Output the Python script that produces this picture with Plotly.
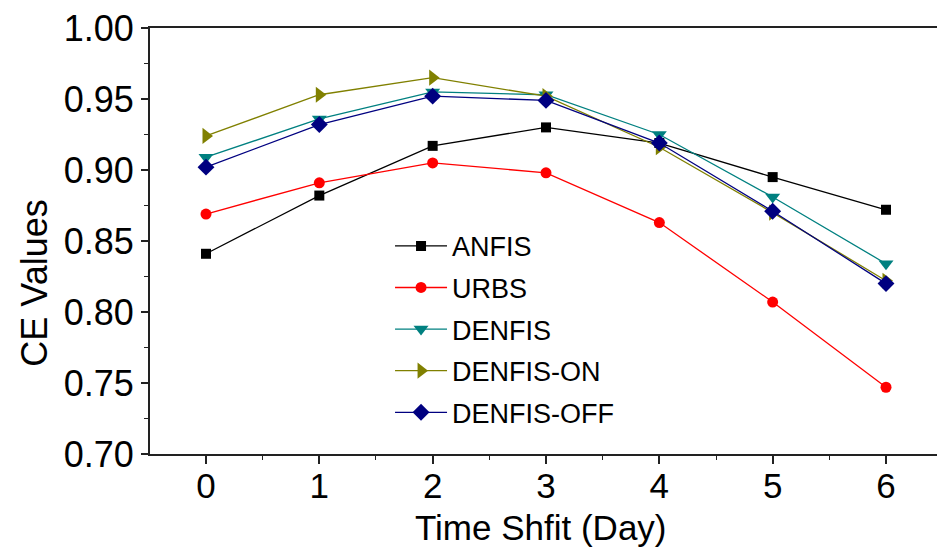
import plotly.graph_objects as go

days = [0, 1, 2, 3, 4, 5, 6]
anfis = [0.841, 0.882, 0.917, 0.930, 0.919, 0.895, 0.872]
urbs = [0.869, 0.891, 0.905, 0.898, 0.863, 0.807, 0.747]
denfis = [0.909, 0.936, 0.955, 0.953, 0.925, 0.881, 0.834]
denfis_on = [0.924, 0.953, 0.965, 0.952, 0.916, 0.870, 0.822]
denfis_off = [0.902, 0.932, 0.952, 0.949, 0.919, 0.871, 0.820]

x_title = "Time Shfit (Day)"
y_title = "CE Values"

series = [
    ("ANFIS", anfis, "#000000", "square", 10),
    ("URBS", urbs, "#FF0000", "circle", 11),
    ("DENFIS", denfis, "#008080", "triangle-down", 13),
    ("DENFIS-ON", denfis_on, "#808000", "triangle-right", 14),
    ("DENFIS-OFF", denfis_off, "#000080", "diamond", 13),
]

fig = go.Figure()
for i, (name, vals, color, sym, sz) in enumerate(series):
    fig.add_trace(go.Scatter(
        x=days, y=vals, name=name, mode="lines+markers",
        line=dict(color=color, width=1.3),
        marker=dict(symbol=sym, size=sz, color=color, line=dict(width=0)),
        legendgroup=f"g{i}",
    ))

font = "Liberation Sans, Arial, sans-serif"
fig.update_layout(
    width=937, height=547,
    margin=dict(l=150, r=0, t=28, b=93),
    paper_bgcolor="white", plot_bgcolor="white",
    font=dict(family=font, color="black"),
    showlegend=True,
    legend=dict(
        x=0.305, y=0.545, xanchor="left", yanchor="top",
        font=dict(size=27, family=font),
        bgcolor="rgba(0,0,0,0)", tracegroupgap=3.5,
        traceorder="grouped", itemwidth=52,
    ),
    xaxis=dict(
        range=[-0.494, 6.45], tickmode="array", tickvals=days,
        ticktext=[str(d) for d in days],
        ticks="outside", ticklen=8, tickwidth=1.5, tickcolor="#222",
        minor=dict(dtick=0.5, tick0=0.5, ticks="outside", ticklen=4, tickwidth=1.2, tickcolor="#222"),
        showline=True, linecolor="#222", linewidth=2, mirror=True,
        showgrid=False, zeroline=False, automargin=False,
        tickfont=dict(size=35, family=font),
        ticklabelstandoff=-8,
    ),
    yaxis=dict(
        range=[0.70, 1.00], dtick=0.05, tick0=0.70, tickformat=".2f",
        ticks="outside", ticklen=7, tickwidth=1.5, tickcolor="#222",
        minor=dict(dtick=0.025, tick0=0.70, ticks="outside", ticklen=4, tickwidth=1.2, tickcolor="#222"),
        showline=True, linecolor="#222", linewidth=2,
        showgrid=False, zeroline=False, automargin=False,
        tickfont=dict(size=36, family=font),
    ),
    annotations=[
        dict(text=x_title, xref="paper", yref="paper", x=0.497, y=-0.172,
             xanchor="center", yanchor="middle", showarrow=False,
             font=dict(size=35, family=font)),
        dict(text=y_title, xref="paper", yref="paper", x=-0.146, y=0.40,
             xanchor="center", yanchor="middle", showarrow=False, textangle=-90,
             font=dict(size=36, family=font)),
    ],
)

fig.write_html(
    "out.html",
    config={"displayModeBar": False},
    post_script="document.body.style.margin='0px';document.body.style.overflow='hidden';",
)
